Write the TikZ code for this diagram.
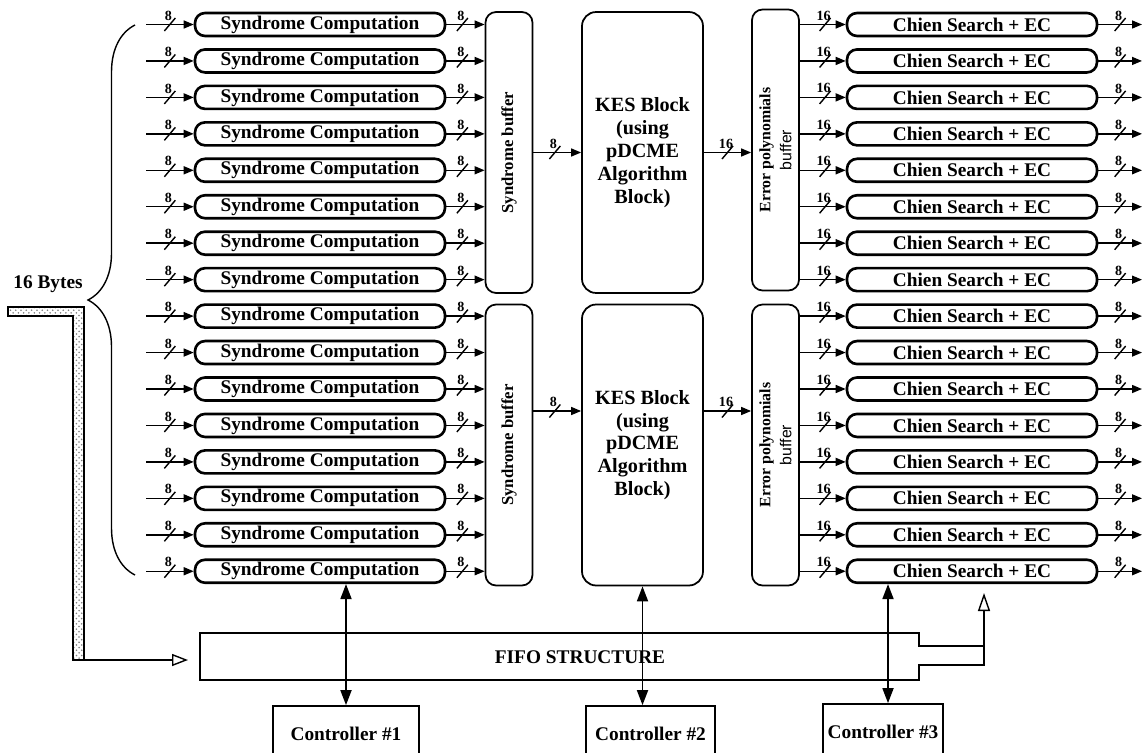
\documentclass[tikz,border=0pt]{standalone}
\usepackage{fontspec}
\setmainfont{Liberation Serif}
\newfontfamily\helv{Liberation Sans}
\usetikzlibrary{arrows.meta,positioning,decorations.pathreplacing,patterns}

\begin{document}
\begin{tikzpicture}[
    x=0.02cm, y=-0.02cm,
    font=\fontsize{11}{13}\selectfont\bfseries,
    >=Stealth,
    blk/.style={draw, line width=1.5pt, rounded corners=0.2cm, minimum width=5cm, minimum height=0.46cm, inner sep=0pt},
    buf/.style={draw, line width=1pt, rounded corners=6pt, minimum width=0.94cm, minimum height=5.62cm, inner sep=0pt},
    kes/.style={draw, line width=1pt, rounded corners=8pt, minimum width=2.42cm, minimum height=5.62cm, align=center, font=\fontsize{11.5}{13}\selectfont\bfseries},
    ctrl/.style={draw, line width=1pt, minimum height=1.12cm, inner sep=0pt},
    bus/.style={line width=0.8pt, -{Triangle[length=2mm,width=1.6mm]}},
    ctl/.style={line width=1pt, {Triangle[length=3mm,width=2.2mm]}-{Triangle[length=3mm,width=2.2mm]}},
    slash/.pic={\draw[-, line width=0.8pt] (-0.11cm,-0.13cm) -- (0.11cm,0.13cm);
        \node[font=\fontsize{8}{8}\selectfont\bfseries, inner sep=0pt] at (-0.03cm,0.18cm) {#1};}
]
\useasboundingbox (0,0) rectangle (1145,753);

\node[buf] (sbuf1) at (509,152.5) {};
\node[buf] (sbuf2) at (509,445) {};
\node[kes] (kes1) at (642.5,152.5) {KES Block\\(using\\pDCME\\Algorithm\\Block)};
\node[kes] (kes2) at (642.5,445) {KES Block\\(using\\pDCME\\Algorithm\\Block)};
\node[buf] (ebuf1) at (775.5,150) {};
\node[buf] (ebuf2) at (775.5,445) {};
\foreach \g in {1,2} {
    \node[rotate=90, font=\fontsize{9.5}{10}\selectfont\bfseries] (sbuf\g txt) at (sbuf\g) {Syndrome buffer};
    \node[rotate=90, align=center, font=\fontsize{9}{12}\selectfont\bfseries] (ebuf\g txt) at (ebuf\g) {Error polynomials\\{\helv\mdseries buffer}};
}
\draw[bus] (sbuf1.east) -- pic[pos=0.45]{slash=8} (kes1.west);
\draw[bus] (kes1.east) -- pic[pos=0.5]{slash=16} (ebuf1.west |- kes1.east);
\draw[bus] ([yshift=0.68cm]sbuf2.east) -- pic[pos=0.45]{slash=8} ([yshift=0.68cm]kes2.west);
\draw[bus] ([yshift=0.68cm]kes2.east) -- pic[pos=0.5]{slash=16} ([yshift=0.68cm]ebuf2.west);

\foreach \i in {1,...,16} {
    \pgfmathtruncatemacro\g{\i<9 ? 1 : 2}
    \node[blk] (syn\i) at (320,{24.5+36.45*(\i-1)}) {Syndrome Computation};
    \node[blk] (chien\i) at (972,{24.5+36.45*(\i-1)}) {Chien Search + EC};
    \coordinate (in\i) at (146,{24.5+36.45*(\i-1)});
    \coordinate (out\i) at (1142,{24.5+36.45*(\i-1)});
    \draw[bus] (in\i) -- pic[pos=0.5]{slash=8} (syn\i.west);
    \draw[bus] (syn\i.east) -- pic[pos=0.42]{slash=8} (syn\i.east -| sbuf\g.west);
    \draw[bus] (chien\i.west -| ebuf\g.east) -- pic[pos=0.55]{slash=16} (chien\i.west);
    \draw[bus] (chien\i.east) -- pic[pos=0.5]{slash=8} (out\i);
}

\draw[line width=0.8pt, decorate, decoration={brace, amplitude=0.94cm}] (135,575) -- (135,25);
\node (bytes) at (48,284) {16 Bytes};

\draw[line width=1pt, pattern=crosshatch dots, pattern color=gray] (8,307) -- (84,307) -- (84,660) -- (73,660) -- (73,316) -- (8,316) -- cycle;
\coordinate (pipe) at (84,660);
\draw[line width=1pt] (200,633) -- (919,633) -- (919,646) -- (984,646) -- (984,665) -- (919,665) -- (919,680) -- (200,680) -- cycle;
\node (fifo) at (580,657) {FIFO STRUCTURE};
\coordinate (fifoin) at (200,660);
\coordinate (fifoout) at (984,646);
\coordinate (ecin) at (984,593);
\draw[line width=0.8pt, -{Triangle[open,length=3.2mm,width=2.4mm]}, shorten >=0.24cm] (pipe) -- (fifoin);
\draw[line width=0.8pt, -{Triangle[open,length=3.6mm,width=2.4mm]}] (fifoout) -- (ecin);

\node[ctrl, minimum width=2.92cm] (ctrl1) at (346,734) {Controller \#1};
\node[ctrl, minimum width=2.58cm] (ctrl2) at (650.5,734) {Controller \#2};
\node[ctrl, minimum width=2.4cm] (ctrl3) at (883,732) {Controller \#3};
\draw[ctl] (ctrl1.north |- syn16.south) -- (ctrl1.north);
\draw[ctl] (kes2.south) -- (kes2.south |- ctrl2.north);
\draw[ctl] ([xshift=0.1cm]ctrl3.north |- chien16.south) -- ([xshift=0.1cm]ctrl3.north);
\end{tikzpicture}
\end{document}
